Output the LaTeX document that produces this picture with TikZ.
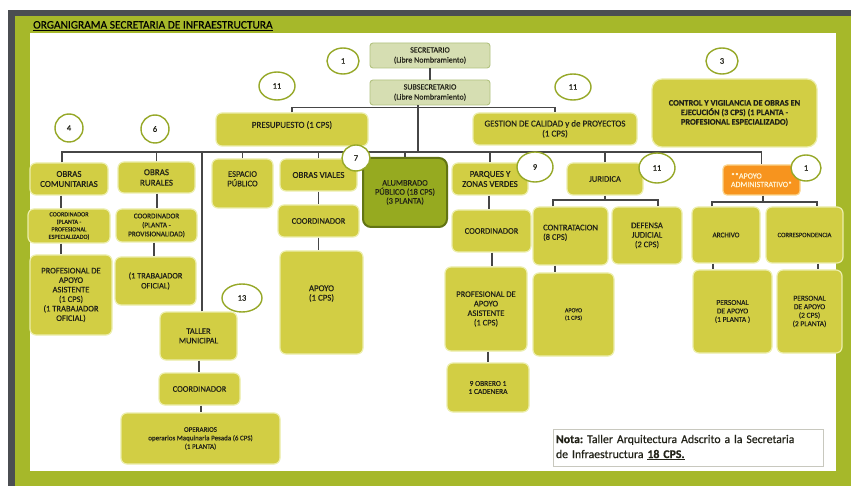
\documentclass[tikz,border=0pt]{standalone}
\usepackage{fontspec}
\setmainfont{Carlito}[FakeBold=0.4]
\usetikzlibrary{shapes.geometric}
\definecolor{fdark}{RGB}{75,78,82}
\definecolor{fgreen}{RGB}{166,184,42}
\definecolor{boxf}{RGB}{210,206,68}
\definecolor{boxb}{RGB}{236,238,172}
\definecolor{sagef}{RGB}{214,222,178}
\definecolor{sageb}{RGB}{178,194,128}
\definecolor{aluf}{RGB}{150,170,32}
\definecolor{alub}{RGB}{98,116,20}
\definecolor{orf}{RGB}{247,148,30}
\definecolor{orb}{RGB}{250,212,140}
\definecolor{ortxt}{RGB}{255,244,214}
\definecolor{circb}{RGB}{150,168,40}
\definecolor{linec}{RGB}{70,70,70}
\definecolor{txt}{RGB}{34,34,24}
\definecolor{notab}{RGB}{200,200,190}
\frenchspacing
\begin{document}
\begin{tikzpicture}[x=1pt,y=-1pt,
  wh/.style 2 args={minimum width=#1pt, minimum height=#2pt},
  fs/.style 2 args={font=\fontsize{#1}{#2}\selectfont},
  box/.style={draw=boxb, fill=boxf, line width=1.2pt, rounded corners=6pt, align=center,
    inner sep=1pt, text=txt, fs={8.5}{9.5}},
  sage/.style={box, draw=sageb, fill=sagef, rounded corners=3pt, line width=0.9pt, fs={8}{10}},
  alubox/.style={box, draw=alub, fill=aluf, line width=2pt, rounded corners=8pt},
  orbox/.style={box, draw=orb, fill=orf, align=left, text=ortxt, fs={8}{8.5}, rounded corners=4pt},
  num/.style={ellipse, draw=circb, fill=white, line width=1.4pt, inner sep=0pt, text=txt, fs={8.5}{9}},
  conn/.style={draw=linec, line width=1.3pt}
]
\useasboundingbox (0,0) rectangle (851,486);
% frame
\fill[white] (0,0) rectangle (851,486);
\fill[fdark] (8,10) rectangle (851,486);
\fill[fgreen] (15,16) rectangle (851,486);
\fill[white] (30,33) rectangle (836,471);
\node[anchor=base west, fs={11.4}{12}, text=black, inner sep=0pt] (title) at (33,28.5)
  {\underline{ORGANIGRAMA SECRETARIA DE INFRAESTRUCTURA}};

% top
\node[sage, wh={120}{25}] (sec) at (430,55.5) {SECRETARIO\\(Libre Nombramiento)};
\node[sage, wh={120}{25}] (sub) at (430,92.5) {SUBSECRETARIO\\(Libre Nombramiento)};
\node[box, wh={152}{33}, fs={9}{10}] (pres) at (292,129.5) {PRESUPUESTO (1 CPS)\\\mbox{}};
\node[box, wh={164}{32}, fs={9}{10}] (gest) at (555,129) {GESTION DE CALIDAD y de PROYECTOS\\(1 CPS)};
\node[box, wh={165}{68}, rounded corners=10pt, fs={8.4}{9.5}] (ctrl) at (734.5,113)
  {\bfseries CONTROL Y VIGILANCIA DE OBRAS EN\\\bfseries EJECUCIÓN (3 CPS) (1 PLANTA -\\\bfseries PROFESIONAL ESPECIALIZADO)};

% obras comunitarias
\node[box, wh={78}{32}, fs={9}{10}] (oc) at (69,179) {OBRAS\\COMUNITARIAS};
\node[box, wh={82}{34}, fs={6.2}{7.5}] (oc2) at (69,226) {COORDINADOR\\(PLANTA -\\PROFESIONAL\\ESPECIALIZADO)};
\node[box, wh={82}{80}] (oc3) at (71,295) {PROFESIONAL DE\\APOYO\\ASISTENTE\\(1 CPS)\\(1 TRABAJADOR\\OFICIAL)};
% obras rurales
\node[box, wh={77}{31}, fs={9}{10.5}] (orr) at (156.5,177.5) {OBRAS\\RURALES};
\node[box, wh={81}{33}, fs={7.2}{9}] (orr2) at (156.5,225.5) {COORDINADOR\\(PLANTA -\\PROVISIONALIDAD)};
\node[box, wh={81}{48}, fs={8.3}{10}] (orr3) at (155.5,281) {(1 TRABAJADOR\\OFICIAL)};
% espacio publico
\node[box, wh={61}{49}] (esp) at (242.5,183.5) {ESPACIO\\PÚBLICO\\\mbox{}};
% obras viales
\node[box, wh={77}{32}, fs={9}{10}] (ov) at (318.5,175) {OBRAS VIALES};
\node[box, wh={81}{32}] (ov2) at (318.5,221) {COORDINADOR};
\node[box, wh={83}{103}, fs={8.8}{9.5}] (ov3) at (321.5,302.5) {APOYO\\(1 CPS)\\\mbox{}\\\mbox{}};
% alumbrado
\node[alubox, wh={84}{69}, fs={8.4}{9}] (alu) at (405,192.5) {ALUMBRADO\\PÚBLICO (18 CPS)\\(3 PLANTA)};
% parques
\node[box, wh={76}{32}, fs={9}{10}] (par) at (490,179) {PARQUES Y\\ZONAS VERDES};
\node[box, wh={79}{42}] (par2) at (491.5,231) {COORDINADOR};
\node[box, wh={82}{84}] (par3) at (486,309) {PROFESIONAL DE\\APOYO\\ASISTENTE\\(1 CPS)};
\node[box, wh={82}{49}, fs={7.5}{8}] (par4) at (488,387.5) {9 OBRERO 1\\1 CADENERA};
% juridica
\node[box, wh={76}{32}] (jur) at (605,179) {JURIDICA};
\node[box, wh={75}{58}, align=left] (con) at (570.5,236) {CONTRATACION\\(8 CPS)\\[-2pt]\mbox{}};
\node[box, wh={70}{57}] (dfj) at (647,235.5) {DEFENSA\\JUDICIAL\\(2 CPS)};
\node[box, wh={81}{83}, fs={6}{7.5}] (apj) at (573.5,314.5) {APOYO\\(1 CPS)};
% apoyo administrativo
\node[orbox, wh={77}{30}] (adm) at (761.5,180) {**APOYO\\ADMINISTRATIVO*};
\node[box, wh={68}{56}, fs={7.2}{8}] (arc) at (726,235) {ARCHIVO};
\node[box, wh={77}{56}, fs={6.6}{8}] (cor) at (804.5,235) {CORRESPONDENCIA};
\node[box, wh={79}{83}, fs={7.5}{8.5}] (pa1) at (732.5,311.5) {PERSONAL\\DE APOYO\\(1 PLANTA )};
\node[box, wh={65}{83}, fs={7.5}{8.5}] (pa2) at (809.5,311.5) {PERSONAL\\DE APOYO\\(2 CPS)\\(2 PLANTA)};
% taller
\node[box, wh={77}{48}] (tal) at (198.5,336) {TALLER\\MUNICIPAL};
\node[box, wh={81}{32}] (tal2) at (199.5,389) {COORDINADOR};
\node[box, wh={159}{51}, fs={7}{8.5}] (tal3) at (200.5,438.5)
  {OPERARIOS\\operarios Maquinaria Pesada (6 CPS)\\(1 PLANTA)};
% nota
\node[draw=notab, fill=white, line width=1pt, text width=264pt, align=left, inner xsep=3pt,
  wh={270}{37}, fs={11.8}{15}, text=txt] (nota) at (688,447.5)
  {\textbf{Nota:} Taller Arquitectura Adscrito a la Secretaria\\de Infraestructura \underline{\textbf{18 CPS.}}};

% connectors
\coordinate (bus) at (0,152);
\coordinate (jb) at (0,200);
\coordinate (ab) at (0,202);
\draw[conn] (sec.south) -- (sub.north);
\draw[conn] (pres.north) -- ++(0,-5) -| (gest.north);
\draw[conn] ([xshift=-12pt]sub.south) -- ([xshift=-12pt]sub.south |- bus);
\draw[conn] ([xshift=-7pt]oc.north) -- ([xshift=-7pt]oc.north |- bus) -- (adm.north |- bus) -- (adm.north);
\foreach \n in {orr,esp,ov,alu,par,jur}{\draw[conn] (\n.north) -- (\n.north |- bus);}
\draw[conn] ([xshift=3.5pt]tal.north) -- ([xshift=3.5pt]tal.north |- bus);
\draw[conn] (oc.south -| 61,0) -- (oc2.north -| 61,0);
\draw[conn] (oc2.south -| 61,0) -- (oc3.north -| 61,0);
\draw[conn] (orr.south -| 157,0) -- (orr2.north -| 157,0);
\draw[conn] (orr2.south -| 154,0) -- (orr3.north -| 154,0);
\draw[conn] (ov.south) -- (ov2.north);
\draw[conn] (ov2.south) -- (ov2.south |- ov3.north);
\draw[conn] (par.south -| 489,0) -- (par2.north -| 489,0);
\draw[conn] (par2.south -| 492,0) -- (par3.north -| 492,0);
\draw[conn] (par3.south -| 488,0) -- (par4.north -| 488,0);
\draw[conn] (jur.south) -- (jur.south |- jb);
\draw[conn] (con.north -| 553,0) |- (jb -| 658,0) -- (dfj.north -| 658,0);
\draw[conn] (con.south -| 555,0) -- (apj.north -| 555,0);
\draw[conn] (adm.south -| 763,0) -- (ab -| 763,0);
\draw[conn] (arc.north -| 712,0) |- (ab -| 817,0) -- (cor.north -| 817,0);
\draw[conn] (arc.south -| 713,0) -- (pa1.north -| 713,0);
\draw[conn] (cor.south -| 818,0) -- (pa2.north -| 818,0);
\draw[conn] (tal.south -| 199,0) -- (tal2.north -| 199,0);
\draw[conn] (tal2.south -| 201,0) -- (tal3.north -| 201,0);

% numbered circles
\node[num, wh={32}{26}] (n1) at (343,61) {1};
\node[num, wh={36}{28}] (n11a) at (277,86) {11};
\node[num, wh={36}{26}] (n11b) at (573,87) {11};
\node[num, wh={32}{26}] (n3) at (722,61) {3};
\node[num, wh={28}{28}] (n4) at (69,128) {4};
\node[num, wh={28}{28}] (n6) at (155,129) {6};
\node[num, wh={28}{26}] (n7) at (356,158) {7};
\node[num, wh={36}{30}] (n9) at (535,167) {9};
\node[num, wh={36}{30}] (n11c) at (657,168) {11};
\node[num, wh={30}{26}] (n1b) at (806,168) {1};
\node[num, wh={40}{28}] (n13) at (242,298) {13};
\end{tikzpicture}
\end{document}
